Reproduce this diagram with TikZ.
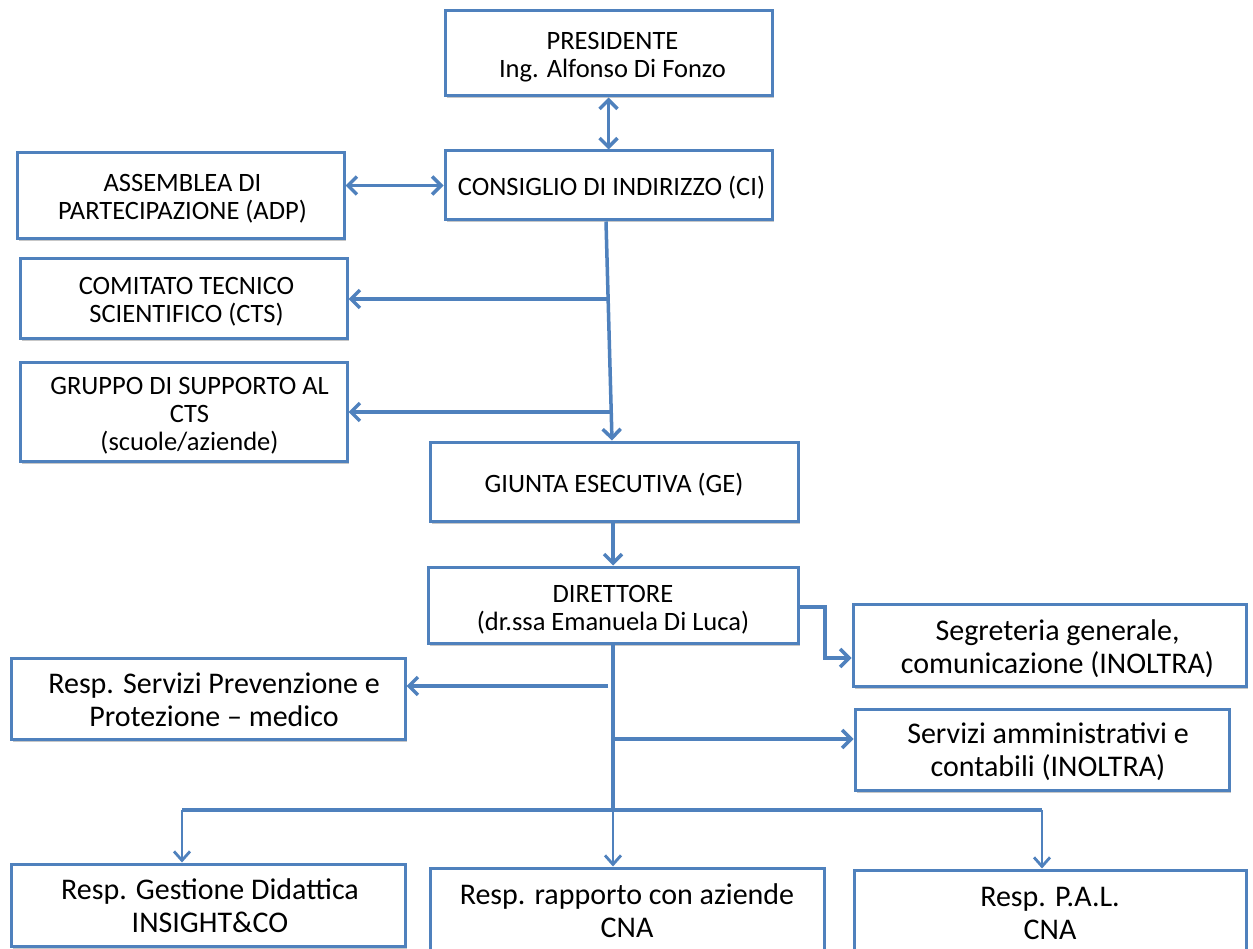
\documentclass[tikz,border=0pt]{standalone}
\usepackage{fontspec}
\setmainfont{Carlito}
\usetikzlibrary{arrows.meta,shadows,calc}
\definecolor{ob}{HTML}{4F81BD}
\begin{document}
\begin{tikzpicture}[x=1pt,y=-1pt,
  box/.style={draw=ob, line width=3pt, fill=white, inner sep=0pt,
    drop shadow={shadow xshift=2pt, shadow yshift=-2.5pt, opacity=0.22, fill=black}},
  lbl/.style={align=center, inner sep=0pt, font=\fontsize{26.5}{28}\selectfont},
  biglbl/.style={lbl, font=\fontsize{30}{33}\selectfont},
  conn/.style={draw=ob, line width=3.5pt, line cap=butt},
  arr/.style={conn, -{Straight Barb[length=9pt,width=18pt]}},
  darr/.style={conn, {Straight Barb[length=9pt,width=18pt]}-{Straight Barb[length=9pt,width=18pt]}},
  thin/.style={draw=ob, line width=2.8pt, -{Straight Barb[length=9pt,width=16pt]}}]
\useasboundingbox (0,0) rectangle (1253,949);
\fill[white] (0,0) rectangle (1253,949);

% boxes
\node[box, minimum width=327pt, minimum height=85pt] (pres) at (608.5,53.5) {};
\node[box, minimum width=327pt, minimum height=69pt] (ci) at (608.5,185.5) {};
\node[box, minimum width=327pt, minimum height=86pt] (adp) at (180.5,196) {};
\node[box, minimum width=327pt, minimum height=80pt] (cts) at (183.5,299) {};
\node[box, minimum width=327pt, minimum height=98pt] (grp) at (183.5,412) {};
\node[box, minimum width=368pt, minimum height=79pt] (ge) at (614,481.5) {};
\node[box, minimum width=370pt, minimum height=76pt] (dir) at (613,605) {};
\node[box, minimum width=393pt, minimum height=82pt] (seg) at (1049.5,645) {};
\node[box, minimum width=374pt, minimum height=81pt] (amm) at (1042,749.5) {};
\node[box, minimum width=394pt, minimum height=81pt] (prev) at (208,698.5) {};
\node[box, minimum width=394pt, minimum height=82pt] (gest) at (208,905) {};
\node[box, minimum width=394pt, minimum height=84pt] (rap) at (627,910) {};
\node[box, minimum width=392pt, minimum height=85pt] (pal) at (1050,912.5) {};

% texts
\node[lbl] (presT) at ($(pres)+(4,3.5)$) {PRESIDENTE\\Ing. Alfonso Di Fonzo};
\node[lbl] (ciT) at ($(ci)+(3,2.5)$) {CONSIGLIO DI INDIRIZZO (CI)};
\node[lbl] (adpT) at ($(adp)+(2,3)$) {ASSEMBLEA DI\\PARTECIPAZIONE (ADP)};
\node[lbl] (ctsT) at ($(cts)+(3,3)$) {COMITATO TECNICO\\SCIENTIFICO (CTS)};
\node[lbl] (grpT) at ($(grp)+(6,4)$) {GRUPPO DI SUPPORTO AL\\CTS\\(scuole/aziende)};
\node[lbl] (geT) at ($(ge)+(0,3.5)$) {GIUNTA ESECUTIVA (GE)};
\node[lbl] (dirT) at ($(dir)+(0,4.5)$) {DIRETTORE\\(dr.ssa Emanuela Di Luca)};
\node[biglbl] (segT) at ($(seg)+(8,4)$) {Segreteria generale,\\comunicazione (INOLTRA)};
\node[biglbl] (ammT) at ($(amm)+(6,2)$) {Servizi amministrativi e\\contabili (INOLTRA)};
\node[biglbl] (prevT) at ($(prev)+(6,1)$) {Resp. Servizi Prevenzione e\\Protezione – medico};
\node[biglbl] (gestT) at ($(gest)+(2,1)$) {Resp. Gestione Didattica\\INSIGHT\&CO};
\node[biglbl] (rapT) at ($(rap)+(0,1)$) {Resp. rapporto con aziende\\CNA};
\node[biglbl] (palT) at ($(pal)+(0,1)$) {Resp. P.A.L.\\CNA};

% helper coordinates
\coordinate (ciout) at ($(ci.south)+(-2.5,0)$);
\coordinate (gein) at ($(ge.north)+(-2,0)$);
\coordinate (jcts) at (607.5,299);
\coordinate (jgrp) at (610,412);
\coordinate (delb) at (825,607);
\coordinate (jprev) at (608,686);
\coordinate (jamm) at (613,739);
\coordinate (busl) at (182,810);
\coordinate (busm) at (613,810);
\coordinate (busr) at (1042,810);

% connectors
\draw[darr] (pres) -- (ci);
\draw[darr] (adp.east |- ci.west) -- (ci.west);
\draw[arr] (ciout) -- (gein);
\draw[arr] (jcts) -- (jcts -| cts.east);
\draw[arr] (jgrp) -- (jgrp -| grp.east);
\draw[arr] (ge.south -| dir.north) -- (dir.north);
\draw[arr] (dir.east |- delb) -- (delb) |- ($(seg.west)+(0,13)$);
\draw[conn] (dir.south) -- (busm);
\draw[arr] (jprev) -- (jprev -| prev.east);
\draw[arr] (jamm) -- (jamm -| amm.west);
\draw[conn] (busl) -- (busr);
\draw[thin] (busl) -- (busl |- gest.north);
\draw[thin] (busm) -- (busm |- rap.north);
\draw[thin] (busr) -- (busr |- pal.north);
\end{tikzpicture}
\end{document}
